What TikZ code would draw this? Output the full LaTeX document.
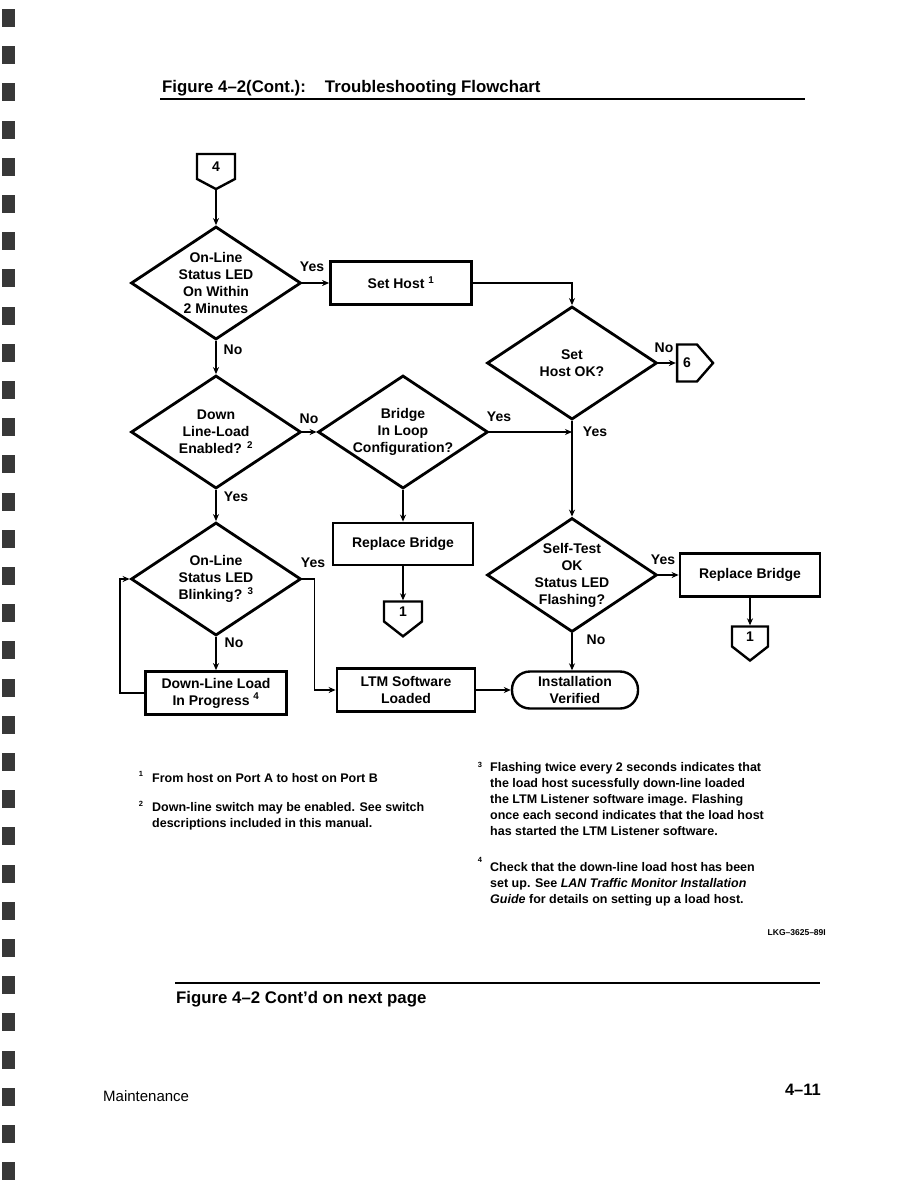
\documentclass[tikz,border=0pt]{standalone}
\usepackage{fontspec}
\setmainfont{Liberation Sans}
\usetikzlibrary{
    arrows.meta,
    positioning,
    shapes.geometric,
    shapes.symbols
}

\begin{document}
\begin{tikzpicture}[x=1pt, y=-1pt,
    every node/.style={font=\bfseries\fontsize{14}{17}\selectfont, align=center, inner sep=0pt},
    box/.style={draw, line width=2.8pt, minimum width=141pt, minimum height=43pt},
    decision/.style={draw, diamond, line width=2.8pt, minimum width=170pt, minimum height=113pt, inner sep=-12pt},
    offpage/.style={draw, signal, line width=2.4pt, minimum width=38pt, minimum height=23pt, signal pointer angle=104},
    term/.style={draw, rounded corners=18pt, line width=2.4pt, minimum width=126pt, minimum height=37pt},
    lbl/.style={font=\bfseries\fontsize{14}{16}\selectfont},
    note/.style={font=\bfseries\fontsize{12.5}{16}\selectfont, align=left, anchor=north west},
    fnmark/.style={font=\bfseries\fontsize{7.5}{8}\selectfont},
    flow/.style={line width=1.8pt, -{Stealth[length=7pt,width=6pt]}}
]
    \fill[white] (0,0) rectangle (918,1188);
    % binder holes
    \foreach \k in {0,...,31}
        \fill[black!78] (2,{9+37.2*\k}) rectangle ++(13,18);

    % heading
    \node[anchor=base west, font=\bfseries\fontsize{16.8}{19}\selectfont] (title) at (162,93)
        {Figure 4–2(Cont.):\hspace{19pt}Troubleshooting Flowchart};
    \draw[line width=2pt] (160,99) -- (805,99);

    % flowchart
    \node[offpage, signal to=south, minimum height=27pt, signal pointer angle=124] (c4) at (216,166.5) {4};
    \node[decision] (d1) at (216,283) {On-Line\\Status LED\\On Within\\2 Minutes};
    \node[box] (sh) at (401,283) {Set Host \textsuperscript{1}};
    \node[decision] (d2) at (572,363) {Set\\Host OK?};
    \node[offpage, signal to=east, minimum width=36pt, minimum height=37pt, signal pointer angle=98] (c6) at (687,363) {6};
    \node[decision] (d3) at (216,432) {Down\\Line-Load\\Enabled? \textsuperscript{2}};
    \node[decision] (br) at (403,432) {Bridge\\In Loop\\Configuration?};
    \node[box, minimum width=140pt, minimum height=42pt] (rb1) at (403,544) {Replace Bridge};
    \node[offpage, signal to=south] (c1a) at (403,611.5) {1};
    \node[decision] (d4) at (216,579) {On-Line\\Status LED\\Blinking? \textsuperscript{3}};
    \node[decision, minimum height=114pt] (st) at (572,575) {Self-Test\\OK\\Status LED\\Flashing?};
    \node[box, minimum width=140pt] (rb2) at (750,575) {Replace Bridge};
    \node[offpage, signal to=south, minimum width=36pt] (c1b) at (750,636.5) {1};
    \node[box] (dl) at (216,693) {Down-Line Load\\In Progress \textsuperscript{4}};
    \node[box, minimum width=138pt] (ltm) at (406,690) {LTM Software\\Loaded};
    \node[term] (iv) at (575,690) {Installation\\Verified};

    % branch labels
    \node[lbl] (yes1) at (312,267) {Yes};
    \node[lbl] (no1) at (233,350) {No};
    \node[lbl] (no2) at (664,348) {No};
    \node[lbl] (yes2) at (595,432) {Yes};
    \node[lbl] (no3) at (309,419) {No};
    \node[lbl] (yes3) at (236,497) {Yes};
    \node[lbl] (yes4) at (499,417) {Yes};
    \node[lbl] (yes5) at (313,563) {Yes};
    \node[lbl] (no5) at (234,643) {No};
    \node[lbl] (yes6) at (663,560) {Yes};
    \node[lbl] (no6) at (596,640) {No};

    % connectors
    \draw[flow] (c4.south) -- (d1.north);
    \draw[flow] (d1.east) -- (sh.west);
    \draw[flow] (sh.east) -| (d2.north);
    \draw[flow] (d2.east) -- (c6.west);
    \draw[flow] (d2.south) -- (st.north);
    \draw[flow] (d1.south) -- (d3.north);
    \draw[flow] (d3.east) -- (br.west);
    \draw[flow] (br.east) -- (br.east -| d2.south);
    \draw[flow] (br.south) -- (rb1.north);
    \draw[flow] (rb1.south) -- (c1a.north);
    \draw[flow] (d3.south) -- (d4.north);
    \draw[flow] (d4.south) -- (dl.north);
    \draw[flow] (d4.east) -- ++(12,0) |- (ltm.west);
    \draw[flow] (dl.west) -- ++(-24,0) |- (d4.west);
    \draw[flow] (ltm.east) -- (iv.west);
    \draw[flow] (st.east) -- (rb2.west);
    \draw[flow] (rb2.south) -- (c1b.north);
    \draw[flow] (st.south) -- (st.south |- iv.north);

    % footnotes
    \node[fnmark] (m1) at (141,774) {1};
    \node[note] (n1) at (152,773) {From host on Port A to host on Port B};
    \node[fnmark] (m2) at (141,804) {2};
    \node[note] (n2) at (152,802) {Down-line switch may be enabled. See switch\\descriptions included in this manual.};
    \node[fnmark] (m3) at (480,765) {3};
    \node[note] (n3) at (490,762) {Flashing twice every 2 seconds indicates that\\the load host sucessfully down-line loaded\\the LTM Listener software image. Flashing\\once each second indicates that the load host\\has started the LTM Listener software.};
    \node[fnmark] (m4) at (480,860) {4};
    \node[note] (n4) at (490,862) {Check that the down-line load host has been\\set up. See \textit{LAN Traffic Monitor Installation}\\\textit{Guide} for details on setting up a load host.};
    \node[anchor=base east, font=\bfseries\fontsize{8.5}{10}\selectfont] (fig) at (826,935) {LKG–3625–89I};

    % foot of page
    \draw[line width=2pt] (175,983) -- (820,983);
    \node[anchor=base west, font=\bfseries\fontsize{16.8}{19}\selectfont] (cont) at (176,1003) {Figure 4–2 Cont'd on next page};
    \node[anchor=base west, font=\fontsize{15}{18}\selectfont] (sect) at (103,1101) {Maintenance};
    \node[anchor=base east, font=\bfseries\fontsize{16.5}{19}\selectfont] (pg) at (821,1095) {4–11};
\end{tikzpicture}
\end{document}
